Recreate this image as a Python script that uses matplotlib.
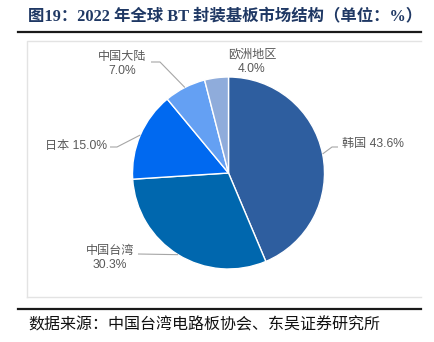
import numpy as np
import matplotlib
matplotlib.use("Agg")
import matplotlib.pyplot as plt

# 2022 global BT substrate market share by region (%)
regions = ["韩国", "中国台湾", "日本", "中国大陆", "欧洲地区"]
shares = [43.6, 30.3, 15.0, 7.0, 4.0]
colors = ["#2E5E9F", "#0067AE", "#0069F0", "#64A0F3", "#8FACDB"]

title = "图19：2022 年全球 BT 封装基板市场结构（单位：%）"
source = "数据来源：中国台湾电路板协会、东吴证券研究所"

W, H = 434, 342
fig = plt.figure(figsize=(W / 100, H / 100), dpi=100)
ax = fig.add_axes([0, 0, 1, 1])

def py(y):
    # pixel row (from top) -> data y
    return H - y

cx, cy, r = 228.5, py(173), 96
wedges, _ = ax.pie(shares, colors=colors, startangle=90, counterclock=False,
                   center=(cx, cy), radius=r, frame=True,
                   wedgeprops=dict(edgecolor="white", linewidth=1.0))
ax.set_xlim(0, W)
ax.set_ylim(0, H)
ax.set_aspect("equal")
ax.axis("off")

lab_font = ["Liberation Sans", "Noto Sans CJK SC"]
lab_color = "#595959"
line_color = "#A6A6A6"

def edge_point(w):
    ang = np.deg2rad((w.theta1 + w.theta2) / 2)
    return cx + r * np.cos(ang), cy + r * np.sin(ang)

# label text positions (pixels) and elbow points of leader lines
layout = {
    0: dict(text=f"{regions[0]} {shares[0]:.1f}%", xy=(342, 144), ha="left",
            path=[(332, 147), (338, 147)]),
    1: dict(text=f"{regions[1]}\n{shares[1]:.1f}%", xy=(110, 258), ha="center",
            path=[(138, 254)]),
    2: dict(text=f"{regions[2]} {shares[2]:.1f}%", xy=(107, 146), ha="right",
            path=[(117, 147), (110, 147)]),
    3: dict(text=f"{regions[3]}\n{shares[3]:.1f}%", xy=(122, 64), ha="center",
            path=[(160, 62), (151, 62)]),
    4: dict(text=f"{regions[4]}\n{shares[4]:.1f}%", xy=(252, 62), ha="center",
            path=None),
}

for i, w in enumerate(wedges):
    spec = layout[i]
    if spec["path"]:
        ex, ey = edge_point(w)
        xs = [ex] + [p[0] for p in spec["path"]]
        ys = [ey] + [py(p[1]) for p in spec["path"]]
        ax.plot(xs, ys, color=line_color, lw=0.8, solid_capstyle="butt")
    tx, ty = spec["xy"]
    ax.text(tx, py(ty), spec["text"], ha=spec["ha"], va="center",
            fontsize=8.7, color=lab_color, family=lab_font,
            linespacing=1.3, multialignment="center")

# light frame around the chart area
ax.plot([27, 27, 421], [py(297), py(41), py(41)], color="#E3E3E3", lw=1.0)
ax.plot([27, 421], [py(297), py(297)], color="#E3E3E3", lw=1.0)

# title, rules and source
ax.text(28, py(16), title, ha="left", va="center", fontsize=11.8,
        fontweight="bold", color="#1F3864",
        family=["Liberation Serif", "Noto Sans CJK SC"])
ax.plot([18, 421], [py(31.5), py(31.5)], color="#1A1A1A", lw=1.6)
ax.plot([18, 421], [py(309), py(309)], color="#1A1A1A", lw=1.6)
ax.text(28, py(325), source, ha="left", va="center", fontsize=11.5,
        color="#111111", family=["Noto Sans CJK SC"], fontweight="light")

fig.savefig("out.png", dpi=100, facecolor="white")
